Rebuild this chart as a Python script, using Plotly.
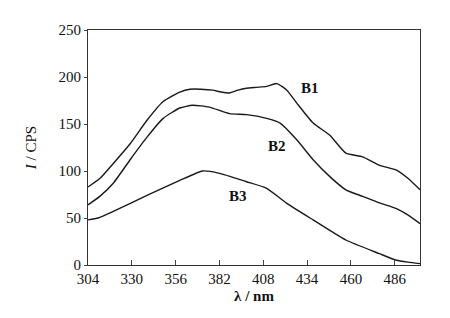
import plotly.graph_objects as go

wl_b1 = [304, 311, 319, 329, 339, 348.6, 358.5, 364.5, 371, 378, 383, 388, 393, 398, 404, 410, 416, 422, 428, 437.6, 447.5, 457, 467, 477, 487, 494, 501]
b1 = [83, 92, 108, 129, 154, 174, 184, 187, 187, 186, 184, 183, 186, 188, 189, 190, 193, 186, 172, 151, 138, 119, 115, 106, 101, 92, 80]

wl_b2 = [304, 311, 319, 329, 339, 348.6, 358.5, 366, 376, 388, 398, 410, 418, 428, 437.6, 447.5, 457, 467, 477, 487, 494, 501]
b2 = [64, 73, 87, 112, 136, 156, 167, 170, 168, 161, 160, 156, 151, 133, 112, 94, 80, 73, 66, 60, 53, 44]

wl_b3 = [304, 310, 319, 339, 358.5, 372, 382, 398, 410, 422, 437.6, 457, 477, 487, 494, 501]
b3 = [48, 50, 57, 74, 90, 100, 97.5, 88.6, 81.6, 65.6, 48, 26.6, 12, 5, 3, 1.5]

x_ticks = [304, 330, 356, 382, 408, 434, 460, 486]
y_ticks = [0, 50, 100, 150, 200, 250]

labels = ["B1", "B2", "B3"]
label_x = [435.6, 416, 393]
label_y = [188, 127, 73]

font = dict(family="Liberation Serif", size=15, color="#111")

fig = go.Figure()
for xs, ys in [(wl_b1, b1), (wl_b2, b2), (wl_b3, b3)]:
    fig.add_trace(go.Scatter(x=xs, y=ys, mode="lines",
                             line=dict(color="#1a1a1a", width=1.4, shape="spline", smoothing=0.5),
                             showlegend=False))

for t, lx, ly in zip(labels, label_x, label_y):
    fig.add_annotation(x=lx, y=ly, text="<b>" + t + "</b>", showarrow=False,
                       font=dict(family="Liberation Serif", size=15, color="#111"))

fig.update_layout(
    width=450, height=318,
    margin=dict(l=88, r=30, t=30, b=53),
    paper_bgcolor="white", plot_bgcolor="white",
    font=font,
    xaxis=dict(range=[304, 501], tickvals=x_ticks, ticks="inside", ticklen=5,
               showline=True, linecolor="#333", linewidth=1.2, mirror=True,
               showgrid=False, zeroline=False,
               title=dict(text="<b>λ / nm</b>", standoff=4, font=font),
               tickfont=font),
    yaxis=dict(range=[0, 250], tickvals=y_ticks, ticks="outside", ticklen=3,
               showline=True, linecolor="#333", linewidth=1.2, mirror=True,
               showgrid=False, zeroline=False,
               title=dict(text="<i>I</i> / CPS", standoff=18, font=font),
               tickfont=font),
)

fig.write_html("out.html")
